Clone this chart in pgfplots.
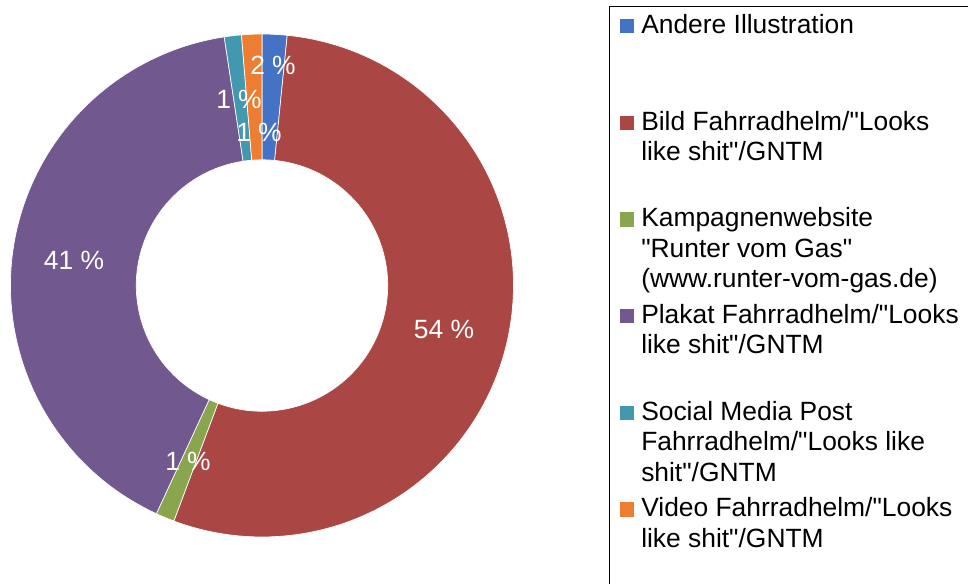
\documentclass[border=0pt]{standalone}
\usepackage{fontspec}
\setmainfont{Liberation Sans}[Ligatures=TeXOff]
\usepackage{pgfplots}
\pgfplotsset{compat=1.18}
\usepackage{pgfplotstable}

\definecolor{c0}{HTML}{4472C4}
\definecolor{c1}{HTML}{AA4643}
\definecolor{c2}{HTML}{89A54E}
\definecolor{c3}{HTML}{71588F}
\definecolor{c4}{HTML}{4198AF}
\definecolor{c5}{HTML}{ED7D31}

% share in %, label position in px (from top left)
\pgfplotstableread{
share lx ly
1.6  273 65
54.1 444 329
1.2  188 461
40.7 74  260
1.1  239 99
1.3  259 132
}\donut

% start/end angles, clockwise from the top
\def\acc{0}%
\pgfplotsforeachungrouped \i in {0,...,5}{%
  \pgfplotstablegetelem{\i}{share}\of\donut
  \let\v\pgfplotsretval
  \pgfmathsetmacro\nxt{\acc+\v}%
  \pgfmathsetmacro\sa{90-3.6*\acc}%
  \pgfmathsetmacro\ea{90-3.6*\nxt}%
  \pgfmathtruncatemacro\lab{round(\v)}%
  \expandafter\xdef\csname sa\i\endcsname{\sa}%
  \expandafter\xdef\csname ea\i\endcsname{\ea}%
  \expandafter\xdef\csname lt\i\endcsname{\lab}%
  \pgfplotstablegetelem{\i}{lx}\of\donut
  \expandafter\xdef\csname lx\i\endcsname{\pgfplotsretval}%
  \pgfplotstablegetelem{\i}{ly}\of\donut
  \pgfmathsetmacro\yy{583-\pgfplotsretval}%
  \expandafter\xdef\csname ly\i\endcsname{\yy}%
  \xdef\acc{\nxt}%
}%

\newcommand\lgd[1]{\parbox[t][72.5pt][t]{245pt}{\raggedright #1}}
\newcommand\sq[1]{\addlegendimage{legend image code/.code={\fill[#1] (0pt,0.75pt) rectangle (9.75pt,10.5pt);}}}

\begin{document}
\begin{tikzpicture}
\begin{axis}[
    name=ax,
    x=0.75pt, y=0.75pt,
    xmin=0, xmax=968, ymin=0, ymax=583,
    enlargelimits=false,
    hide axis,
    clip=false,
    legend style={
        at={(axis description cs:0.6294,0.9885)}, anchor=north west,
        draw=black, line width=1pt, fill=white,
        inner xsep=8pt, inner ysep=5.8pt, outer sep=0pt,
        row sep=0pt, column sep=5.25pt,
        nodes={inner sep=0pt, text depth=},
        cells={anchor=base west},
        font=\fontsize{19.8}{22.8}\selectfont
    }
]
    \pgfplotsinvokeforeach{0,...,5}{
        \fill[c#1, draw=white, line width=0.5pt, shift={(axis cs:262,297.5)}]
            ({\csname sa#1\endcsname}:188.6pt)
            arc[start angle=\csname sa#1\endcsname, end angle=\csname ea#1\endcsname, radius=188.6pt]
            -- ({\csname ea#1\endcsname}:94.3pt)
            arc[start angle=\csname ea#1\endcsname, end angle=\csname sa#1\endcsname, radius=94.3pt]
            -- cycle;
    }
    \pgfplotsinvokeforeach{0,...,5}{
        \node[text=white, inner sep=0pt, font=\fontsize{19.8}{22.8}\selectfont]
            at (axis cs:\csname lx#1\endcsname,\csname ly#1\endcsname)
            {\csname lt#1\endcsname~\%};
    }

    \sq{c0}\addlegendentry{\lgd{Andere Illustration}}
    \sq{c1}\addlegendentry{\lgd{Bild Fahrradhelm/"Looks\\like shit"/GNTM}}
    \sq{c2}\addlegendentry{\lgd{Kampagnenwebsite\\"Runter vom Gas"\\(www.runter-vom-gas.de)}}
    \sq{c3}\addlegendentry{\lgd{Plakat Fahrradhelm/"Looks\\like shit"/GNTM}}
    \sq{c4}\addlegendentry{\lgd{Social Media Post\\Fahrradhelm/"Looks like\\shit"/GNTM}}
    \sq{c5}\addlegendentry{\lgd{Video Fahrradhelm/"Looks\\like shit"/GNTM}}
\end{axis}
\pgfresetboundingbox
\path[use as bounding box] (ax.south west) rectangle (ax.north east);
\end{tikzpicture}
\end{document}
